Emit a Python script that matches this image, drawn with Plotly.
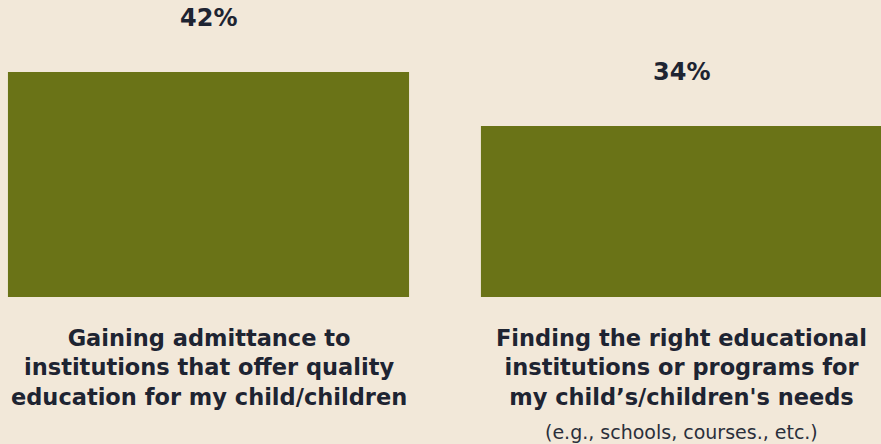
import plotly.graph_objects as go

# Survey results: share of parents citing each challenge
categories = [
    "Gaining admittance to<br>institutions that offer quality<br>education for my child/children",
    "Finding the right educational<br>institutions or programs for<br>my child\u2019s/children's needs",
]
notes = ["", "(e.g., schools, courses., etc.)"]
values = [42, 34]

BG = "#f2e8d9"
BAR = "#6a7317"
INK = "#1e2432"
FONT = "DejaVu Sans"

positions = list(range(len(categories)))

fig = go.Figure(
    go.Bar(
        x=positions,
        y=values,
        width=0.848,
        marker=dict(color=BAR, line=dict(width=0)),
        hoverinfo="skip",
    )
)

annotations = []
for pos, val in zip(positions, values):
    annotations.append(dict(
        x=pos, y=val, xref="x", yref="y",
        text=f"<b>{val}%</b>", showarrow=False,
        yanchor="bottom", yshift=38,
        font=dict(family=FONT, size=24, color=INK),
    ))
for pos, cat, note in zip(positions, categories, notes):
    annotations.append(dict(
        x=pos, y=0, xref="x", yref="paper",
        text=f"<b>{cat}</b>", showarrow=False,
        yanchor="top", yshift=-26,
        font=dict(family=FONT, size=22.5, color=INK),
    ))
    if note:
        annotations.append(dict(
            x=pos, y=0, xref="x", yref="paper",
            text=note, showarrow=False,
            yanchor="top", yshift=-122,
            font=dict(family=FONT, size=19, color="#2a2f3b"),
        ))

fig.update_layout(
    width=881, height=444,
    margin=dict(l=0, r=0, t=0, b=147),
    paper_bgcolor=BG, plot_bgcolor=BG,
    showlegend=False,
    xaxis=dict(range=[-0.4408, 1.4218], visible=False, fixedrange=True),
    yaxis=dict(range=[8.67, 52.67], visible=False, fixedrange=True),
    annotations=annotations,
)

fig.write_html("out.html", config={"displayModeBar": False})
